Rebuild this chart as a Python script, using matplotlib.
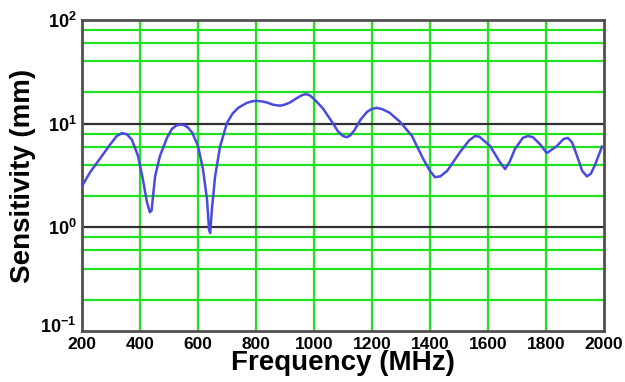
import matplotlib
matplotlib.use("Agg")
import matplotlib.pyplot as plt
import matplotlib.transforms as mtransforms
from matplotlib.ticker import FixedLocator, NullLocator

plt.rcParams['font.family'] = ['Liberation Sans', 'DejaVu Sans']
plt.rcParams['mathtext.fontset'] = 'custom'
plt.rcParams['mathtext.rm'] = 'Liberation Sans:bold'
plt.rcParams['mathtext.bf'] = 'Liberation Sans:bold'
plt.rcParams['mathtext.it'] = 'Liberation Sans:bold'

# Data
freq_mhz = [200, 228, 262, 297, 320, 338, 355, 372, 393, 410, 424, 434, 440, 445,
            452, 469, 493, 510, 525, 538, 552, 565, 580, 600, 617, 631, 638, 642,
            648, 659, 676, 700, 720, 740, 769, 790, 803, 820, 838, 860, 883, 900,
            917, 940, 958, 972, 985, 1003, 1031, 1062, 1083, 1100, 1113, 1125, 1140,
            1160, 1183, 1200, 1217, 1235, 1260, 1297, 1338, 1376, 1400, 1417, 1435,
            1459, 1503, 1535, 1555, 1570, 1607, 1640, 1659, 1675, 1693, 1720, 1738,
            1755, 1780, 1803, 1838, 1860, 1875, 1890, 1907, 1925, 1941, 1955, 1969,
            1993]
sensitivity_mm = [2.5, 3.4, 4.6, 6.3, 7.6, 8.1, 7.9, 7.0, 4.9, 2.9, 1.75, 1.4, 1.45, 2.0,
                  3.1, 4.9, 7.3, 8.9, 9.6, 9.8, 9.7, 9.2, 8.2, 6.1, 3.65, 1.87, 0.95, 0.88,
                  1.5, 3.1, 6.0, 10.2, 12.6, 14.3, 15.9, 16.5, 16.6, 16.4, 16.0, 15.2, 14.9, 15.3,
                  16.0, 17.6, 18.8, 19.3, 18.8, 17.0, 14.0, 10.4, 8.4, 7.6, 7.4, 7.7, 8.7,
                  10.9, 13.0, 13.9, 14.2, 13.8, 12.8, 10.4, 7.6, 4.6, 3.5, 3.05, 3.1,
                  3.5, 5.3, 6.9, 7.6, 7.5, 6.1, 4.3, 3.65, 4.3, 5.7, 7.3, 7.6,
                  7.4, 6.3, 5.2, 6.1, 7.1, 7.3, 6.6, 4.9, 3.5, 3.1, 3.3, 4.0,
                  6.0]

x_ticks = [200, 400, 600, 800, 1000, 1200, 1400, 1600, 1800, 2000]
y_ticks = [0.1, 1, 10, 100]
y_tick_labels = [r'$10^{-1}$', r'$10^{0}$', r'$10^{1}$', r'$10^{2}$']
minor_y = [m * d for d in (0.1, 1, 10) for m in (2, 4, 6, 8)]

fig = plt.figure(figsize=(6.25, 3.82), dpi=100)
ax = fig.add_axes([0.1312, 0.1335, 0.8352, 0.8141])

ax.set_yscale('log')
ax.set_xlim(200, 2000)
ax.set_ylim(0.1, 100)

green = '#22e022'
for y in minor_y:
    ax.axhline(y, color=green, lw=1.6, zorder=1)
for x in x_ticks[1:-1]:
    ax.axvline(x, color=green, lw=1.6, zorder=1)
for y in (1, 10):
    ax.axhline(y, color='#303030', lw=1.6, zorder=2)

ax.plot(freq_mhz, sensitivity_mm, color='#4a4ae0', lw=1.8, zorder=3,
        solid_joinstyle='round')

ax.xaxis.set_major_locator(FixedLocator(x_ticks))
ax.set_xticklabels([str(t) for t in x_ticks], fontsize=12.5, fontweight='bold')
ax.yaxis.set_major_locator(FixedLocator(y_ticks))
ax.yaxis.set_minor_locator(NullLocator())
ax.set_yticklabels(y_tick_labels, fontsize=13)
ax.tick_params(axis='x', length=0, pad=4)
ax.tick_params(axis='y', length=0, pad=4)

# nudge the lowest y label up slightly so it doesn't collide with "200"
lowest = ax.get_yticklabels()[0]
lowest.set_transform(lowest.get_transform() +
                     mtransforms.ScaledTranslation(0, 4 / 72, fig.dpi_scale_trans))

for s in ax.spines.values():
    s.set_color('#505050')
    s.set_linewidth(2)

ax.set_xlabel('Frequency (MHz)', fontsize=20, fontweight='bold', labelpad=-1)
ax.set_ylabel('Sensitivity (mm)', fontsize=20, fontweight='bold', labelpad=3)

fig.savefig('out.png', dpi=100)
